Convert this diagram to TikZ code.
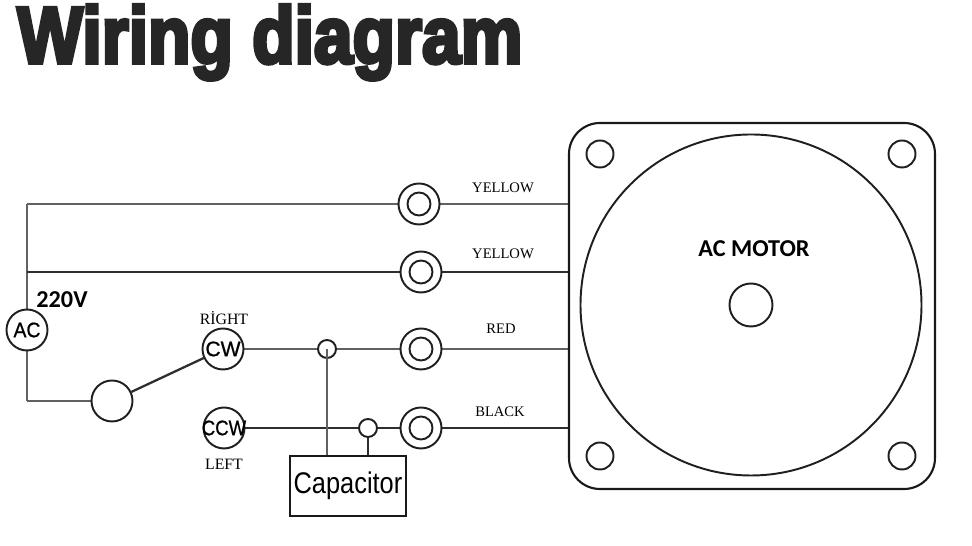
\documentclass[tikz,border=0pt]{standalone}
\usepackage{fontspec}
\setmainfont{Liberation Serif}
\setsansfont{Liberation Sans}
\newfontfamily\titlefont[FakeBold=5]{Liberation Sans Bold}
\newfontfamily\calloutfont{Carlito}
\newfontfamily\pinfont[FakeBold=0.8]{Liberation Sans}
\pgfdeclarelayer{bg}
\pgfsetlayers{bg,main}
\tikzset{
        ring/.style={draw=black!88, circle, inner sep=0pt, line width=1.1pt, fill=white, minimum size=#1},
        wire/.style={draw=black!62, line width=1.6pt},
        darkwire/.style={draw=black!82, line width=1.3pt},
        outline/.style={draw=black!90, line width=1.2pt},
        colourlabel/.style={inner sep=0pt, font=\fontsize{8.3}{10}\selectfont},
        calloutlabel/.style={inner sep=0pt, font=\calloutfont\bfseries\fontsize{13.8}{16}\selectfont},
        pinlabel/.style={font=\pinfont\fontsize{12}{14}\selectfont},
}
\begin{document}
\begin{tikzpicture}
        \useasboundingbox (0cm, 0cm) rectangle (19.44cm, 10.92cm);
        \node (title) [anchor=base west, inner sep=0pt, text=black!85] at (0.34cm, 9.66cm) {\resizebox{10.10cm}{1.16cm}{\titlefont Wiring diagram}};
        \node (motor) [draw, outline, rounded corners=0.62cm, minimum size=7.32cm] at (15.04cm, 4.80cm) {};
        \node (rotor) [ring=6.82cm] at (15.02cm, 4.82cm) {};
        \node (shaft) [ring=0.86cm] at (15.02cm, 4.82cm) {};
        \node (h1) [ring=0.54cm] at (12.00cm, 7.84cm) {};
        \node (h2) [ring=0.54cm] at (18.04cm, 7.84cm) {};
        \node (h3) [ring=0.54cm] at (12.00cm, 1.80cm) {};
        \node (h4) [ring=0.54cm] at (18.04cm, 1.80cm) {};
        \node (t1) [ring=0.82cm] at (8.38cm, 6.84cm) {};
        \node (t2) [ring=0.82cm] at (8.42cm, 5.48cm) {};
        \node (t3) [ring=0.82cm] at (8.42cm, 3.94cm) {};
        \node (t4) [ring=0.82cm] at (8.42cm, 2.36cm) {};
        \node (i1) [ring=0.46cm] at (8.38cm, 6.84cm) {};
        \node (i2) [ring=0.46cm] at (8.42cm, 5.48cm) {};
        \node (i3) [ring=0.46cm] at (8.42cm, 3.94cm) {};
        \node (i4) [ring=0.46cm] at (8.42cm, 2.36cm) {};
        \node (ac) [ring=0.82cm, pinlabel] at (0.54cm, 4.32cm) {\makebox[0pt]{\scalebox{0.92}[1]{AC}}};
        \node (switch) [ring=0.82cm] at (2.24cm, 2.90cm) {};
        \node (cw) [ring=0.82cm, pinlabel] at (4.46cm, 3.94cm) {\makebox[0pt]{CW}};
        \node (ccw) [ring=0.82cm, pinlabel] at (4.48cm, 2.36cm) {\makebox[0pt]{\scalebox{0.88}[1]{CCW}}};
        \node (j1) [ring=0.36cm] at (6.54cm, 3.94cm) {};
        \node (j2) [ring=0.36cm] at (7.36cm, 2.36cm) {};
        \node (capacitor) [draw, outline, minimum width=2.32cm, minimum height=1.20cm, inner sep=0pt, font=\sffamily\fontsize{17}{20}\selectfont] at (6.96cm, 1.20cm) {\scalebox{0.85}[1]{Capacitor}};
        \coordinate (c1) at (0.54cm, 6.84cm);
        \coordinate (c2) at (0.54cm, 5.48cm);
        \coordinate (c3) at (0.54cm, 2.90cm);
        \node (l1) [colourlabel] at (10.06cm, 7.16cm) {YELLOW};
        \node (l2) [colourlabel] at (10.06cm, 5.84cm) {YELLOW};
        \node (l3) [colourlabel] at (10.02cm, 4.34cm) {RED};
        \node (l4) [colourlabel] at (10.00cm, 2.68cm) {BLACK};
        \node (l5) [colourlabel, font=\fontsize{9}{10}\selectfont] at (4.48cm, 4.55cm) {RİGHT};
        \node (l6) [colourlabel, font=\fontsize{9}{10}\selectfont] at (4.48cm, 1.64cm) {LEFT};
        \node (l7) [calloutlabel] at (1.24cm, 4.92cm) {220V};
        \node (l8) [calloutlabel] at (15.08cm, 5.94cm) {AC MOTOR};
        \draw (j1.center) edge [wire] (j1.center |- capacitor.north);
        \begin{pgfonlayer}{bg}
                \draw (ac) edge [wire] (c1);
                \draw (c1) edge [wire] (t1);
                \draw (t1) edge [wire] (t1 -| motor.west);
                \draw (c2) edge [darkwire] (t2);
                \draw (t2) edge [darkwire] (t2 -| motor.west);
                \draw (ac) edge [wire] (c3);
                \draw (c3) edge [wire] (switch);
                \draw (switch) edge [darkwire] (cw);
                \draw (cw) edge [wire] (t3);
                \draw (t3) edge [wire] (t3 -| motor.west);
                \draw (ccw) edge [darkwire] (t4);
                \draw (t4) edge [darkwire] (t4 -| motor.west);
                \draw (j2) edge [darkwire] (j2 |- capacitor.north);
        \end{pgfonlayer}
\end{tikzpicture}
\end{document}
